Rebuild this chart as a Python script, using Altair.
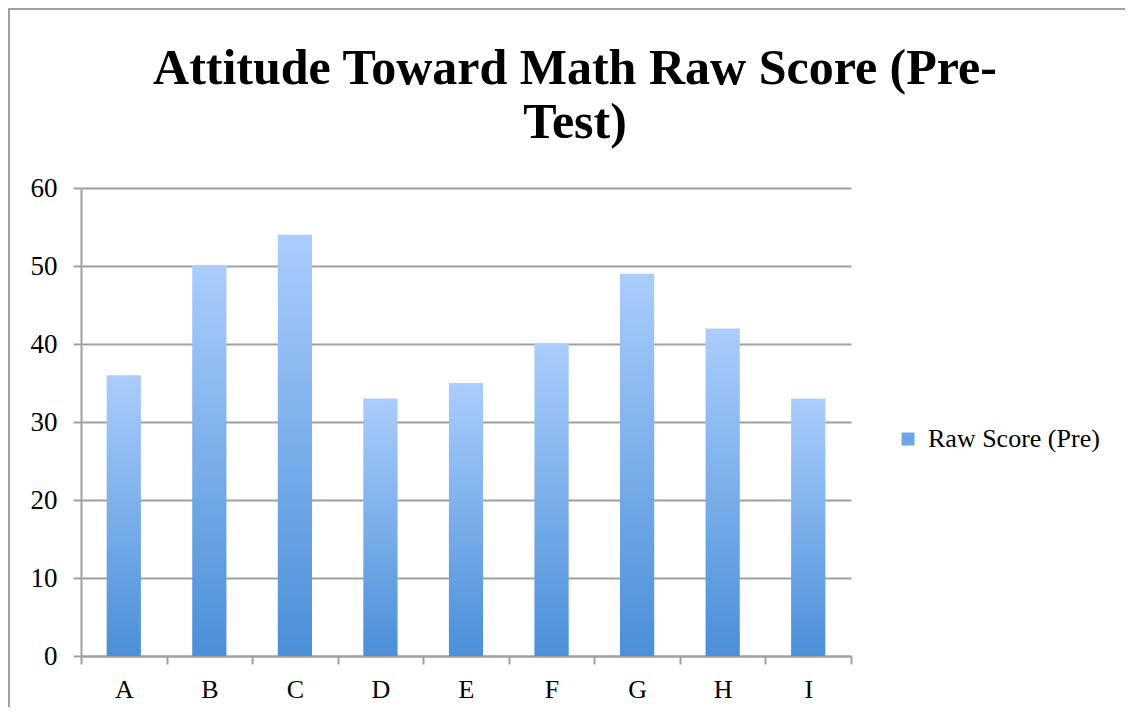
import altair as alt
import pandas as pd

categories = ["A", "B", "C", "D", "E", "F", "G", "H", "I"]
scores = [36, 50, 54, 33, 35, 40, 49, 42, 33]
series_name = "Raw Score (Pre)"
y_ticks = [0, 10, 20, 30, 40, 50, 60]
title_lines = ["Attitude Toward Math Raw Score (Pre-", "Test)"]

df = pd.DataFrame({"Student": categories, "Score": scores})
legend_df = pd.DataFrame({"Student": ["A"], "Score": [-10], "Series": [series_name]})
border_df = pd.DataFrame({"k": [0]})

FONT = "Liberation Serif"
GRAY = "#a0a0a0"

gradient = alt.LinearGradient(
    gradient="linear",
    stops=[alt.GradientStop(color="#aacdfc", offset=0),
           alt.GradientStop(color="#4a8fd8", offset=1)],
    x1=0, x2=0, y1=0, y2=1,
)

x_scale = alt.Scale(paddingInner=0, paddingOuter=0)
x_enc = alt.X(
    "Student:N", sort=categories, scale=x_scale,
    axis=alt.Axis(title=None, labelAngle=0, tickBand="extent", grid=False,
                  domainColor=GRAY, domainWidth=2, tickColor=GRAY, tickWidth=2,
                  tickSize=8, labelFont=FONT, labelFontSize=26, labelColor="black",
                  labelPadding=12),
)
y_scale = alt.Scale(domain=[0, 60], nice=False)
y_enc = alt.Y(
    "Score:Q", scale=y_scale,
    axis=alt.Axis(title=None, values=y_ticks, grid=True, gridColor=GRAY, gridWidth=2,
                  domainColor=GRAY, domainWidth=2, tickColor=GRAY, tickWidth=2,
                  tickSize=8, labelFont=FONT, labelFontSize=27, labelColor="black",
                  labelPadding=16),
)

bars = alt.Chart(df).mark_bar(fill=gradient, width=alt.RelativeBandSize(0.4)).encode(
    x=x_enc, y=y_enc)

legend_layer = alt.Chart(legend_df).mark_square(clip=True, size=169, opacity=1).encode(
    x=alt.X("Student:N", sort=categories, scale=x_scale),
    y=alt.Y("Score:Q", scale=y_scale),
    color=alt.Color("Series:N", scale=alt.Scale(range=["#6fa6ea"]),
                    legend=alt.Legend(title=None, orient="none", legendX=814, legendY=238,
                                      symbolType="square", symbolSize=169,
                                      labelFont=FONT, labelFontSize=26, labelLimit=400,
                                      labelColor="black", labelOffset=7)),
)

border = alt.Chart(border_df).mark_rect(fillOpacity=0, stroke=GRAY, strokeWidth=2).encode(
    x=alt.value(-72), x2=alt.value(1200), y=alt.value(-179), y2=alt.value(700)
)

chart = alt.layer(border, bars, legend_layer).properties(
    width=770, height=468,
    title=alt.TitleParams(text=title_lines, font=FONT, fontSize=50, fontWeight="bold",
                          color="black", anchor="middle", dx=109, dy=140, offset=0,
                          lineHeight=54),
    autosize=alt.AutoSizeParams(type="none"),
    padding={"left": 73, "top": 180, "right": 274, "bottom": 51},
).configure_view(stroke="transparent")

chart.save("out.html", embed_options={"renderer": "svg", "actions": False})
